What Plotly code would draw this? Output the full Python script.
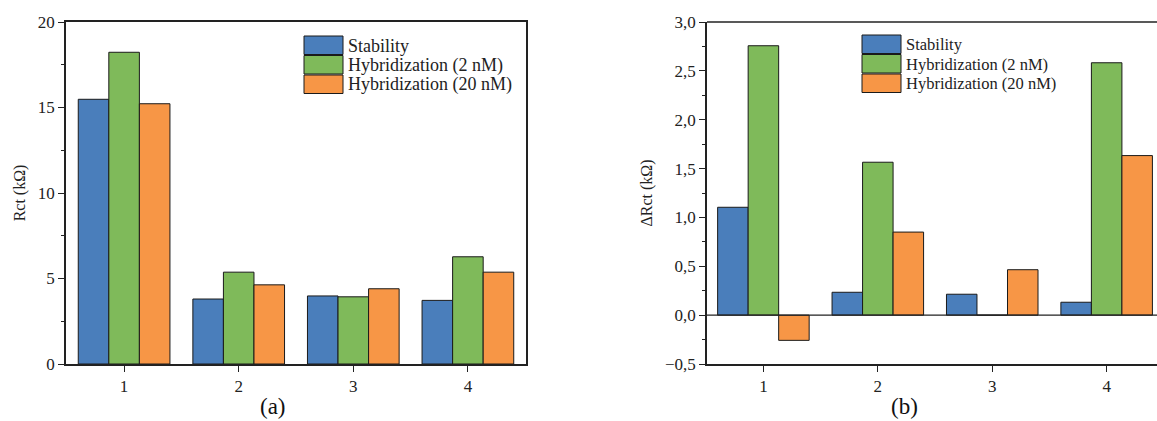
import plotly.graph_objects as go

# Data
categories = [1, 2, 3, 4]
series_names = ["Stability", "Hybridization (2 nM)", "Hybridization (20 nM)"]
series_colors = ["#4a7ebb", "#7fba5a", "#f79646"]

rct_values = [
    [15.48, 3.80, 3.98, 3.72],   # Stability
    [18.23, 5.37, 3.93, 6.27],   # Hybridization (2 nM)
    [15.22, 4.63, 4.40, 5.37],   # Hybridization (20 nM)
]
delta_rct_values = [
    [1.104, 0.234, 0.214, 0.132],
    [2.757, 1.565, 0.0, 2.583],
    [-0.258, 0.850, 0.465, 1.633],
]

y1_ticks = [0, 5, 10, 15, 20]
y2_ticks = [-0.5, 0.0, 0.5, 1.0, 1.5, 2.0, 2.5, 3.0]

FONT = "Liberation Serif, Times New Roman, serif"
W, H = 1157, 421

fig = go.Figure()

for i, name in enumerate(series_names):
    fig.add_trace(go.Bar(
        x=categories, y=rct_values[i], name=name, showlegend=False,
        marker=dict(color=series_colors[i], line=dict(color="#1a1a1a", width=1)),
        xaxis="x", yaxis="y",
    ))
    fig.add_trace(go.Bar(
        x=categories, y=delta_rct_values[i], name=name, showlegend=False,
        marker=dict(color=series_colors[i], line=dict(color="#1a1a1a", width=1)),
        xaxis="x2", yaxis="y2",
    ))

ydom = [1 - 364 / H, 1 - 22 / H]
axis_common = dict(
    showgrid=False, zeroline=False, showline=True, linecolor="#222", linewidth=1.5,
    ticks="outside", tickcolor="#222", tickwidth=1.2, automargin=False,
    tickfont=dict(family=FONT, size=17, color="#222"),
)

fig.update_layout(
    width=W, height=H,
    margin=dict(l=0, r=0, t=0, b=0),
    paper_bgcolor="white", plot_bgcolor="white",
    barmode="group", bargap=0.2, bargroupgap=0,
    separators=",.",
    font=dict(family=FONT, color="#222"),
    xaxis=dict(
        domain=[66 / W, 526 / W], range=[0.493, 4.507], anchor="y",
        tickvals=categories, mirror=True, ticklen=6, **axis_common,
    ),
    yaxis=dict(
        domain=ydom, range=[0, 20], anchor="x",
        tickvals=y1_ticks, mirror=True, ticklen=6,
        minor=dict(dtick=2.5, ticks="outside", ticklen=3, tickcolor="#222"),
        title=dict(text="Rct (kΩ)", font=dict(family=FONT, size=16), standoff=8),
        **axis_common,
    ),
    xaxis2=dict(
        domain=[707 / W, 1.0], range=[0.507, 4.44], anchor="y2",
        tickvals=categories, mirror=False, ticklen=6, **axis_common,
    ),
    yaxis2=dict(
        domain=ydom, range=[-0.5, 3.0], anchor="x2",
        tickvals=y2_ticks, tickformat=".1f", mirror=False, ticklen=6,
        minor=dict(dtick=0.25, ticks="outside", ticklen=3, tickcolor="#222"),
        title=dict(text="ΔRct (kΩ)", font=dict(family=FONT, size=16), standoff=8),
        **axis_common,
    ),
)

# top frame line and zero line for panel (b)
fig.add_shape(type="line", xref="x2 domain", yref="y2 domain", x0=0, x1=1, y0=1, y1=1,
              line=dict(color="#222", width=1.5))
fig.add_shape(type="line", xref="x2 domain", yref="y2", x0=0, x1=1, y0=0, y1=0,
              line=dict(color="#222", width=1.2), layer="above")

# Legends drawn as swatch + label per panel
def add_legend(x0_px, y0_px, row_h, sw_w, fsize):
    for i, name in enumerate(series_names):
        top = y0_px + i * row_h
        fig.add_shape(type="rect", xref="paper", yref="paper",
                      x0=x0_px / W, x1=(x0_px + sw_w) / W,
                      y0=1 - (top + row_h - 1) / H, y1=1 - top / H,
                      fillcolor=series_colors[i], line=dict(color="#1a1a1a", width=1))
        fig.add_annotation(xref="paper", yref="paper", x=(x0_px + sw_w + 3) / W,
                           y=1 - (top + row_h / 2) / H, text=name, showarrow=False,
                           xanchor="left", yanchor="middle",
                           font=dict(family=FONT, size=fsize, color="#222"))

add_legend(304, 36, 19.5, 39, 18)
add_legend(862, 35, 19.5, 39, 16.5)

# panel labels
fig.add_annotation(xref="paper", yref="paper", x=273 / W, y=1 - 406 / H, text="(a)",
                   showarrow=False, xanchor="center", yanchor="middle",
                   font=dict(family=FONT, size=23, color="#111"))
fig.add_annotation(xref="paper", yref="paper", x=904 / W, y=1 - 406 / H, text="(b)",
                   showarrow=False, xanchor="center", yanchor="middle",
                   font=dict(family=FONT, size=23, color="#111"))

fig.write_html("out.html")
